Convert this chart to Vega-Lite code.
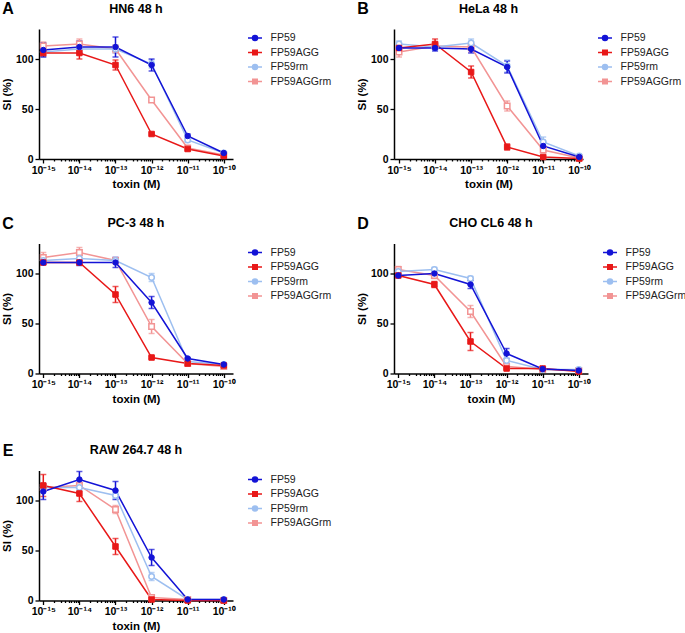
{
"$schema": "https://vega.github.io/schema/vega-lite/v6.json",
"padding": {"left": 1, "top": 1, "right": 0, "bottom": 0},
"background": "white",
"config": {
 "font": "Liberation Sans",
 "view": {"stroke": null},
 "axis": {"domainColor": "#000", "domainWidth": 1.5, "tickColor": "#000", "tickWidth": 1.3, "labelFont": "Liberation Sans", "labelFontWeight": "bold", "labelFontSize": 10.5, "labelColor": "#000", "titleFont": "Liberation Sans", "titleFontWeight": "bold", "titleFontSize": 11.5, "titleColor": "#000", "grid": false, "labelPadding": 2},
 "axisY": {"tickSize": 4, "titlePadding": 3},
 "axisX": {"titlePadding": 3, "labelOverlap": false},
 "title": {"font": "Liberation Sans", "fontSize": 12.5, "fontWeight": "bold", "color": "#000", "anchor": "middle", "frame": "group", "offset": -14}
},
"datasets": {
 "A": [
  {"x":1e-15,"s":"FP59AGGrm","y":113,"e":4},{"x":1e-14,"s":"FP59AGGrm","y":115,"e":5},{"x":1e-13,"s":"FP59AGGrm","y":110,"e":4},{"x":1e-12,"s":"FP59AGGrm","y":59,"e":2},{"x":1e-11,"s":"FP59AGGrm","y":11,"e":1},{"x":1e-10,"s":"FP59AGGrm","y":4,"e":1},
  {"x":1e-15,"s":"FP59rm","y":107,"e":5},{"x":1e-14,"s":"FP59rm","y":110,"e":4},{"x":1e-13,"s":"FP59rm","y":110,"e":4},{"x":1e-12,"s":"FP59rm","y":95,"e":4},{"x":1e-11,"s":"FP59rm","y":19,"e":2},{"x":1e-10,"s":"FP59rm","y":6,"e":1},
  {"x":1e-15,"s":"FP59AGG","y":106,"e":3},{"x":1e-14,"s":"FP59AGG","y":106,"e":6},{"x":1e-13,"s":"FP59AGG","y":94,"e":5},{"x":1e-12,"s":"FP59AGG","y":25,"e":1},{"x":1e-11,"s":"FP59AGG","y":10,"e":1},{"x":1e-10,"s":"FP59AGG","y":3,"e":1},
  {"x":1e-15,"s":"FP59","y":109,"e":7},{"x":1e-14,"s":"FP59","y":112,"e":6},{"x":1e-13,"s":"FP59","y":112,"e":10},{"x":1e-12,"s":"FP59","y":94,"e":6},{"x":1e-11,"s":"FP59","y":23,"e":2},{"x":1e-10,"s":"FP59","y":6,"e":1}
 ],
 "B": [
  {"x":1e-15,"s":"FP59AGGrm","y":107,"e":5},{"x":1e-14,"s":"FP59AGGrm","y":113,"e":3},{"x":1e-13,"s":"FP59AGGrm","y":112,"e":5},{"x":1e-12,"s":"FP59AGGrm","y":53,"e":5},{"x":1e-11,"s":"FP59AGGrm","y":9,"e":2},{"x":1e-10,"s":"FP59AGGrm","y":1,"e":1},
  {"x":1e-15,"s":"FP59rm","y":115,"e":3},{"x":1e-14,"s":"FP59rm","y":112,"e":3},{"x":1e-13,"s":"FP59rm","y":116,"e":4},{"x":1e-12,"s":"FP59rm","y":93,"e":6},{"x":1e-11,"s":"FP59rm","y":17,"e":5},{"x":1e-10,"s":"FP59rm","y":3,"e":1},
  {"x":1e-15,"s":"FP59AGG","y":111,"e":3},{"x":1e-14,"s":"FP59AGG","y":115,"e":5},{"x":1e-13,"s":"FP59AGG","y":87,"e":6},{"x":1e-12,"s":"FP59AGG","y":12,"e":3},{"x":1e-11,"s":"FP59AGG","y":2,"e":1},{"x":1e-10,"s":"FP59AGG","y":0.5,"e":0.5},
  {"x":1e-15,"s":"FP59","y":111,"e":3},{"x":1e-14,"s":"FP59","y":111,"e":3},{"x":1e-13,"s":"FP59","y":110,"e":4},{"x":1e-12,"s":"FP59","y":92,"e":6},{"x":1e-11,"s":"FP59","y":13,"e":4},{"x":1e-10,"s":"FP59","y":2,"e":1}
 ],
 "C": [
  {"x":1e-15,"s":"FP59AGGrm","y":116,"e":5},{"x":1e-14,"s":"FP59AGGrm","y":121,"e":5},{"x":1e-13,"s":"FP59AGGrm","y":113,"e":3},{"x":1e-12,"s":"FP59AGGrm","y":47,"e":7},{"x":1e-11,"s":"FP59AGGrm","y":10,"e":1},{"x":1e-10,"s":"FP59AGGrm","y":7,"e":1},
  {"x":1e-15,"s":"FP59rm","y":113,"e":3},{"x":1e-14,"s":"FP59rm","y":115,"e":3},{"x":1e-13,"s":"FP59rm","y":113,"e":3},{"x":1e-12,"s":"FP59rm","y":96,"e":4},{"x":1e-11,"s":"FP59rm","y":12,"e":1},{"x":1e-10,"s":"FP59rm","y":9,"e":1},
  {"x":1e-15,"s":"FP59AGG","y":111,"e":2},{"x":1e-14,"s":"FP59AGG","y":111,"e":2},{"x":1e-13,"s":"FP59AGG","y":79,"e":8},{"x":1e-12,"s":"FP59AGG","y":16,"e":1},{"x":1e-11,"s":"FP59AGG","y":10,"e":1},{"x":1e-10,"s":"FP59AGG","y":8,"e":1},
  {"x":1e-15,"s":"FP59","y":111,"e":2},{"x":1e-14,"s":"FP59","y":111,"e":3},{"x":1e-13,"s":"FP59","y":111,"e":5},{"x":1e-12,"s":"FP59","y":71,"e":6},{"x":1e-11,"s":"FP59","y":15,"e":1},{"x":1e-10,"s":"FP59","y":9,"e":1}
 ],
 "D": [
  {"x":1e-15,"s":"FP59AGGrm","y":104,"e":3},{"x":1e-14,"s":"FP59AGGrm","y":98,"e":3},{"x":1e-13,"s":"FP59AGGrm","y":62,"e":6},{"x":1e-12,"s":"FP59AGGrm","y":7,"e":1},{"x":1e-11,"s":"FP59AGGrm","y":4,"e":1},{"x":1e-10,"s":"FP59AGGrm","y":3,"e":1},
  {"x":1e-15,"s":"FP59rm","y":102,"e":2},{"x":1e-14,"s":"FP59rm","y":104,"e":2},{"x":1e-13,"s":"FP59rm","y":95,"e":2},{"x":1e-12,"s":"FP59rm","y":13,"e":2},{"x":1e-11,"s":"FP59rm","y":4,"e":1},{"x":1e-10,"s":"FP59rm","y":4,"e":1},
  {"x":1e-15,"s":"FP59AGG","y":98,"e":1},{"x":1e-14,"s":"FP59AGG","y":89,"e":3},{"x":1e-13,"s":"FP59AGG","y":32,"e":9},{"x":1e-12,"s":"FP59AGG","y":5,"e":1},{"x":1e-11,"s":"FP59AGG","y":5,"e":1},{"x":1e-10,"s":"FP59AGG","y":2,"e":1},
  {"x":1e-15,"s":"FP59","y":98,"e":2},{"x":1e-14,"s":"FP59","y":100,"e":3},{"x":1e-13,"s":"FP59","y":89,"e":4},{"x":1e-12,"s":"FP59","y":20,"e":5},{"x":1e-11,"s":"FP59","y":4.5,"e":1},{"x":1e-10,"s":"FP59","y":3,"e":1}
 ],
 "E": [
  {"x":1e-15,"s":"FP59AGGrm","y":113,"e":3},{"x":1e-14,"s":"FP59AGGrm","y":115,"e":3},{"x":1e-13,"s":"FP59AGGrm","y":91,"e":4},{"x":1e-12,"s":"FP59AGGrm","y":3,"e":1},{"x":1e-11,"s":"FP59AGGrm","y":1,"e":1},{"x":1e-10,"s":"FP59AGGrm","y":0,"e":0.5},
  {"x":1e-15,"s":"FP59rm","y":113,"e":3},{"x":1e-14,"s":"FP59rm","y":113,"e":3},{"x":1e-13,"s":"FP59rm","y":105,"e":3},{"x":1e-12,"s":"FP59rm","y":24,"e":4},{"x":1e-11,"s":"FP59rm","y":1,"e":1},{"x":1e-10,"s":"FP59rm","y":1,"e":1},
  {"x":1e-15,"s":"FP59AGG","y":115,"e":11},{"x":1e-14,"s":"FP59AGG","y":107,"e":8},{"x":1e-13,"s":"FP59AGG","y":54,"e":8},{"x":1e-12,"s":"FP59AGG","y":1,"e":1},{"x":1e-11,"s":"FP59AGG","y":0,"e":0.5},{"x":1e-10,"s":"FP59AGG","y":0,"e":0.5},
  {"x":1e-15,"s":"FP59","y":109,"e":8},{"x":1e-14,"s":"FP59","y":121,"e":8},{"x":1e-13,"s":"FP59","y":110,"e":9},{"x":1e-12,"s":"FP59","y":43,"e":8},{"x":1e-11,"s":"FP59","y":1,"e":1},{"x":1e-10,"s":"FP59","y":1,"e":1}
 ]
},
"vconcat": [
 {"vconcat": [
  {"hconcat": [
   {"data": {"name": "A"}, "width": 194, "height": 130, "title": {"text": "HN6 48 h"},
    "layer": [
     {"mark": {"type": "errorbar", "ticks": {"size": 6}, "thickness": 1.5},
      "encoding": {
       "x": {"field": "x", "type": "quantitative", "scale": {"type": "log", "domain": [7.6e-16, 1.8e-10], "nice": false}, "axis": {"title": "toxin (M)", "values": [1e-15,2e-15,3e-15,4e-15,5e-15,6e-15,7e-15,8e-15,9e-15,1e-14,2e-14,3e-14,4e-14,5e-14,6e-14,7e-14,8e-14,9e-14,1e-13,2e-13,3e-13,4e-13,5e-13,6e-13,7e-13,8e-13,9e-13,1e-12,2e-12,3e-12,4e-12,5e-12,6e-12,7e-12,8e-12,9e-12,1e-11,2e-11,3e-11,4e-11,5e-11,6e-11,7e-11,8e-11,9e-11,1e-10], "labelExpr": "abs(log(datum.value)/LN10 - round(log(datum.value)/LN10)) < 0.001 ? ['10⁻¹⁵','10⁻¹⁴','10⁻¹³','10⁻¹²','10⁻¹¹','10⁻¹⁰'][round(log(datum.value)/LN10)+15] : ''", "tickSize": {"condition": {"test": "abs(log(datum.value)/LN10 - round(log(datum.value)/LN10)) < 0.001", "value": 4}, "value": 2}}},
       "y": {"field": "y", "type": "quantitative", "scale": {"domain": [0, 130], "nice": false}, "axis": {"values": [0, 50, 100], "title": "SI (%)"}},
       "yError": {"field": "e"},
       "color": {"field": "s", "type": "nominal", "scale": {"domain": ["FP59","FP59AGG","FP59rm","FP59AGGrm"], "range": ["#1313d6","#e81818","#9dbff0","#f29494"]},
        "legend": {"title": null, "offset": 12.7, "padding": 3, "symbolSize": 100, "labelFont": "Liberation Sans", "labelFontSize": 10.5, "labelColor": "#222", "labelOffset": 9.6, "rowPadding": 2.5,
         "encode": {"symbols": {"update": {
          "shape": {"signal": "(datum.value === 'FP59' || datum.value === 'FP59rm') ? 'M-1.4,0H1.4M0.5,0A0.5,0.5,0,1,1,-0.5,0A0.5,0.5,0,1,1,0.5,0Z' : 'M-1.4,0H1.4M-0.45,-0.45H0.45V0.45H-0.45Z'"},
          "stroke": {"signal": "datum.value === 'FP59' ? '#1313d6' : datum.value === 'FP59AGG' ? '#e81818' : datum.value === 'FP59rm' ? '#9dbff0' : '#f29494'"},
          "fill": {"signal": "datum.value === 'FP59' ? '#1313d6' : datum.value === 'FP59AGG' ? '#e81818' : '#ffffff'"},
          "strokeWidth": {"value": 1.5}, "opacity": {"value": 1}}}}}}}},
     {"mark": {"type": "line", "strokeWidth": 1.5},
      "encoding": {
       "x": {"field": "x", "type": "quantitative", "scale": {"type": "log", "domain": [7.6e-16, 1.8e-10], "nice": false}},
       "y": {"field": "y", "type": "quantitative", "scale": {"domain": [0, 130], "nice": false}},
       "color": {"field": "s", "type": "nominal", "scale": {"domain": ["FP59","FP59AGG","FP59rm","FP59AGGrm"], "range": ["#1313d6","#e81818","#9dbff0","#f29494"]}}}},
     {"transform": [{"filter": "datum.s === 'FP59AGGrm'"}], "mark": {"type": "point", "shape": "square", "filled": true, "fill": "#ffffff", "stroke": "#f29494", "strokeWidth": 1.5, "size": 30, "opacity": 1},
      "encoding": {"x": {"field": "x", "type": "quantitative", "scale": {"type": "log", "domain": [7.6e-16, 1.8e-10], "nice": false}}, "y": {"field": "y", "type": "quantitative", "scale": {"domain": [0, 130], "nice": false}}}},
     {"transform": [{"filter": "datum.s === 'FP59rm'"}], "mark": {"type": "point", "shape": "circle", "filled": true, "fill": "#ffffff", "stroke": "#9dbff0", "strokeWidth": 1.5, "size": 30, "opacity": 1},
      "encoding": {"x": {"field": "x", "type": "quantitative", "scale": {"type": "log", "domain": [7.6e-16, 1.8e-10], "nice": false}}, "y": {"field": "y", "type": "quantitative", "scale": {"domain": [0, 130], "nice": false}}}},
     {"transform": [{"filter": "datum.s === 'FP59AGG'"}], "mark": {"type": "point", "shape": "square", "filled": true, "fill": "#e81818", "stroke": "#e81818", "strokeWidth": 1, "size": 30, "opacity": 1},
      "encoding": {"x": {"field": "x", "type": "quantitative", "scale": {"type": "log", "domain": [7.6e-16, 1.8e-10], "nice": false}}, "y": {"field": "y", "type": "quantitative", "scale": {"domain": [0, 130], "nice": false}}}},
     {"transform": [{"filter": "datum.s === 'FP59'"}], "mark": {"type": "point", "shape": "circle", "filled": true, "fill": "#1313d6", "stroke": "#1313d6", "strokeWidth": 1, "size": 30, "opacity": 1},
      "encoding": {"x": {"field": "x", "type": "quantitative", "scale": {"type": "log", "domain": [7.6e-16, 1.8e-10], "nice": false}}, "y": {"field": "y", "type": "quantitative", "scale": {"domain": [0, 130], "nice": false}}}},
     {"data": {"values": [{"t": "A"}]}, "mark": {"type": "text", "fontSize": 16, "fontWeight": "bold", "font": "Liberation Sans", "baseline": "middle", "align": "center", "color": "#000"},
      "encoding": {"x": {"datum": 1.05e-16, "type": "quantitative", "scale": {"type": "log", "domain": [7.6e-16, 1.8e-10], "nice": false}}, "y": {"datum": 150, "type": "quantitative", "scale": {"domain": [0, 130], "nice": false}}, "text": {"field": "t", "type": "nominal"}}}
    ]},
   {"data": {"name": "B"}, "width": 189, "height": 130, "title": {"text": "HeLa 48 h"},
    "layer": [
     {"mark": {"type": "errorbar", "ticks": {"size": 6}, "thickness": 1.5},
      "encoding": {
       "x": {"field": "x", "type": "quantitative", "scale": {"type": "log", "domain": [7.26e-16, 1.27e-10], "nice": false}, "axis": {"title": "toxin (M)", "values": [1e-15,2e-15,3e-15,4e-15,5e-15,6e-15,7e-15,8e-15,9e-15,1e-14,2e-14,3e-14,4e-14,5e-14,6e-14,7e-14,8e-14,9e-14,1e-13,2e-13,3e-13,4e-13,5e-13,6e-13,7e-13,8e-13,9e-13,1e-12,2e-12,3e-12,4e-12,5e-12,6e-12,7e-12,8e-12,9e-12,1e-11,2e-11,3e-11,4e-11,5e-11,6e-11,7e-11,8e-11,9e-11,1e-10], "labelExpr": "abs(log(datum.value)/LN10 - round(log(datum.value)/LN10)) < 0.001 ? ['10⁻¹⁵','10⁻¹⁴','10⁻¹³','10⁻¹²','10⁻¹¹','10⁻¹⁰'][round(log(datum.value)/LN10)+15] : ''", "tickSize": {"condition": {"test": "abs(log(datum.value)/LN10 - round(log(datum.value)/LN10)) < 0.001", "value": 4}, "value": 2}}},
       "y": {"field": "y", "type": "quantitative", "scale": {"domain": [0, 130], "nice": false}, "axis": {"values": [0, 50, 100], "title": "SI (%)"}},
       "yError": {"field": "e"},
       "color": {"field": "s", "type": "nominal", "scale": {"domain": ["FP59","FP59AGG","FP59rm","FP59AGGrm"], "range": ["#1313d6","#e81818","#9dbff0","#f29494"]},
        "legend": {"title": null, "offset": 12.7, "padding": 3, "symbolSize": 100, "labelFont": "Liberation Sans", "labelFontSize": 10.5, "labelColor": "#222", "labelOffset": 9.6, "rowPadding": 2.5,
         "encode": {"symbols": {"update": {
          "shape": {"signal": "(datum.value === 'FP59' || datum.value === 'FP59rm') ? 'M-1.4,0H1.4M0.5,0A0.5,0.5,0,1,1,-0.5,0A0.5,0.5,0,1,1,0.5,0Z' : 'M-1.4,0H1.4M-0.45,-0.45H0.45V0.45H-0.45Z'"},
          "stroke": {"signal": "datum.value === 'FP59' ? '#1313d6' : datum.value === 'FP59AGG' ? '#e81818' : datum.value === 'FP59rm' ? '#9dbff0' : '#f29494'"},
          "fill": {"signal": "datum.value === 'FP59' ? '#1313d6' : datum.value === 'FP59AGG' ? '#e81818' : '#ffffff'"},
          "strokeWidth": {"value": 1.5}, "opacity": {"value": 1}}}}}}}},
     {"mark": {"type": "line", "strokeWidth": 1.5},
      "encoding": {
       "x": {"field": "x", "type": "quantitative", "scale": {"type": "log", "domain": [7.26e-16, 1.27e-10], "nice": false}},
       "y": {"field": "y", "type": "quantitative", "scale": {"domain": [0, 130], "nice": false}},
       "color": {"field": "s", "type": "nominal", "scale": {"domain": ["FP59","FP59AGG","FP59rm","FP59AGGrm"], "range": ["#1313d6","#e81818","#9dbff0","#f29494"]}}}},
     {"transform": [{"filter": "datum.s === 'FP59AGGrm'"}], "mark": {"type": "point", "shape": "square", "filled": true, "fill": "#ffffff", "stroke": "#f29494", "strokeWidth": 1.5, "size": 30, "opacity": 1},
      "encoding": {"x": {"field": "x", "type": "quantitative", "scale": {"type": "log", "domain": [7.26e-16, 1.27e-10], "nice": false}}, "y": {"field": "y", "type": "quantitative", "scale": {"domain": [0, 130], "nice": false}}}},
     {"transform": [{"filter": "datum.s === 'FP59rm'"}], "mark": {"type": "point", "shape": "circle", "filled": true, "fill": "#ffffff", "stroke": "#9dbff0", "strokeWidth": 1.5, "size": 30, "opacity": 1},
      "encoding": {"x": {"field": "x", "type": "quantitative", "scale": {"type": "log", "domain": [7.26e-16, 1.27e-10], "nice": false}}, "y": {"field": "y", "type": "quantitative", "scale": {"domain": [0, 130], "nice": false}}}},
     {"transform": [{"filter": "datum.s === 'FP59AGG'"}], "mark": {"type": "point", "shape": "square", "filled": true, "fill": "#e81818", "stroke": "#e81818", "strokeWidth": 1, "size": 30, "opacity": 1},
      "encoding": {"x": {"field": "x", "type": "quantitative", "scale": {"type": "log", "domain": [7.26e-16, 1.27e-10], "nice": false}}, "y": {"field": "y", "type": "quantitative", "scale": {"domain": [0, 130], "nice": false}}}},
     {"transform": [{"filter": "datum.s === 'FP59'"}], "mark": {"type": "point", "shape": "circle", "filled": true, "fill": "#1313d6", "stroke": "#1313d6", "strokeWidth": 1, "size": 30, "opacity": 1},
      "encoding": {"x": {"field": "x", "type": "quantitative", "scale": {"type": "log", "domain": [7.26e-16, 1.27e-10], "nice": false}}, "y": {"field": "y", "type": "quantitative", "scale": {"domain": [0, 130], "nice": false}}}},
     {"data": {"values": [{"t": "B"}]}, "mark": {"type": "text", "fontSize": 16, "fontWeight": "bold", "font": "Liberation Sans", "baseline": "middle", "align": "center", "color": "#000"},
      "encoding": {"x": {"datum": 1.0e-16, "type": "quantitative", "scale": {"type": "log", "domain": [7.26e-16, 1.27e-10], "nice": false}}, "y": {"datum": 150, "type": "quantitative", "scale": {"domain": [0, 130], "nice": false}}, "text": {"field": "t", "type": "nominal"}}}
    ]}
  ], "spacing": 21, "resolve": {"scale": {"color": "independent"}, "legend": {"color": "independent"}}},
  {"hconcat": [
   {"data": {"name": "C"}, "width": 194, "height": 130, "title": {"text": "PC-3 48 h"},
    "layer": [
     {"mark": {"type": "errorbar", "ticks": {"size": 6}, "thickness": 1.5},
      "encoding": {
       "x": {"field": "x", "type": "quantitative", "scale": {"type": "log", "domain": [7.6e-16, 1.8e-10], "nice": false}, "axis": {"title": "toxin (M)", "values": [1e-15,2e-15,3e-15,4e-15,5e-15,6e-15,7e-15,8e-15,9e-15,1e-14,2e-14,3e-14,4e-14,5e-14,6e-14,7e-14,8e-14,9e-14,1e-13,2e-13,3e-13,4e-13,5e-13,6e-13,7e-13,8e-13,9e-13,1e-12,2e-12,3e-12,4e-12,5e-12,6e-12,7e-12,8e-12,9e-12,1e-11,2e-11,3e-11,4e-11,5e-11,6e-11,7e-11,8e-11,9e-11,1e-10], "labelExpr": "abs(log(datum.value)/LN10 - round(log(datum.value)/LN10)) < 0.001 ? ['10⁻¹⁵','10⁻¹⁴','10⁻¹³','10⁻¹²','10⁻¹¹','10⁻¹⁰'][round(log(datum.value)/LN10)+15] : ''", "tickSize": {"condition": {"test": "abs(log(datum.value)/LN10 - round(log(datum.value)/LN10)) < 0.001", "value": 4}, "value": 2}}},
       "y": {"field": "y", "type": "quantitative", "scale": {"domain": [0, 130], "nice": false}, "axis": {"values": [0, 50, 100], "title": "SI (%)"}},
       "yError": {"field": "e"},
       "color": {"field": "s", "type": "nominal", "scale": {"domain": ["FP59","FP59AGG","FP59rm","FP59AGGrm"], "range": ["#1313d6","#e81818","#9dbff0","#f29494"]},
        "legend": {"title": null, "offset": 12.7, "padding": 3, "symbolSize": 100, "labelFont": "Liberation Sans", "labelFontSize": 10.5, "labelColor": "#222", "labelOffset": 9.6, "rowPadding": 2.5,
         "encode": {"symbols": {"update": {
          "shape": {"signal": "(datum.value === 'FP59' || datum.value === 'FP59rm') ? 'M-1.4,0H1.4M0.5,0A0.5,0.5,0,1,1,-0.5,0A0.5,0.5,0,1,1,0.5,0Z' : 'M-1.4,0H1.4M-0.45,-0.45H0.45V0.45H-0.45Z'"},
          "stroke": {"signal": "datum.value === 'FP59' ? '#1313d6' : datum.value === 'FP59AGG' ? '#e81818' : datum.value === 'FP59rm' ? '#9dbff0' : '#f29494'"},
          "fill": {"signal": "datum.value === 'FP59' ? '#1313d6' : datum.value === 'FP59AGG' ? '#e81818' : '#ffffff'"},
          "strokeWidth": {"value": 1.5}, "opacity": {"value": 1}}}}}}}},
     {"mark": {"type": "line", "strokeWidth": 1.5},
      "encoding": {
       "x": {"field": "x", "type": "quantitative", "scale": {"type": "log", "domain": [7.6e-16, 1.8e-10], "nice": false}},
       "y": {"field": "y", "type": "quantitative", "scale": {"domain": [0, 130], "nice": false}},
       "color": {"field": "s", "type": "nominal", "scale": {"domain": ["FP59","FP59AGG","FP59rm","FP59AGGrm"], "range": ["#1313d6","#e81818","#9dbff0","#f29494"]}}}},
     {"transform": [{"filter": "datum.s === 'FP59AGGrm'"}], "mark": {"type": "point", "shape": "square", "filled": true, "fill": "#ffffff", "stroke": "#f29494", "strokeWidth": 1.5, "size": 30, "opacity": 1},
      "encoding": {"x": {"field": "x", "type": "quantitative", "scale": {"type": "log", "domain": [7.6e-16, 1.8e-10], "nice": false}}, "y": {"field": "y", "type": "quantitative", "scale": {"domain": [0, 130], "nice": false}}}},
     {"transform": [{"filter": "datum.s === 'FP59rm'"}], "mark": {"type": "point", "shape": "circle", "filled": true, "fill": "#ffffff", "stroke": "#9dbff0", "strokeWidth": 1.5, "size": 30, "opacity": 1},
      "encoding": {"x": {"field": "x", "type": "quantitative", "scale": {"type": "log", "domain": [7.6e-16, 1.8e-10], "nice": false}}, "y": {"field": "y", "type": "quantitative", "scale": {"domain": [0, 130], "nice": false}}}},
     {"transform": [{"filter": "datum.s === 'FP59AGG'"}], "mark": {"type": "point", "shape": "square", "filled": true, "fill": "#e81818", "stroke": "#e81818", "strokeWidth": 1, "size": 30, "opacity": 1},
      "encoding": {"x": {"field": "x", "type": "quantitative", "scale": {"type": "log", "domain": [7.6e-16, 1.8e-10], "nice": false}}, "y": {"field": "y", "type": "quantitative", "scale": {"domain": [0, 130], "nice": false}}}},
     {"transform": [{"filter": "datum.s === 'FP59'"}], "mark": {"type": "point", "shape": "circle", "filled": true, "fill": "#1313d6", "stroke": "#1313d6", "strokeWidth": 1, "size": 30, "opacity": 1},
      "encoding": {"x": {"field": "x", "type": "quantitative", "scale": {"type": "log", "domain": [7.6e-16, 1.8e-10], "nice": false}}, "y": {"field": "y", "type": "quantitative", "scale": {"domain": [0, 130], "nice": false}}}},
     {"data": {"values": [{"t": "C"}]}, "mark": {"type": "text", "fontSize": 16, "fontWeight": "bold", "font": "Liberation Sans", "baseline": "middle", "align": "center", "color": "#000"},
      "encoding": {"x": {"datum": 1.05e-16, "type": "quantitative", "scale": {"type": "log", "domain": [7.6e-16, 1.8e-10], "nice": false}}, "y": {"datum": 150, "type": "quantitative", "scale": {"domain": [0, 130], "nice": false}}, "text": {"field": "t", "type": "nominal"}}}
    ]},
   {"data": {"name": "D"}, "width": 194, "height": 130, "title": {"text": "CHO CL6 48 h"},
    "layer": [
     {"mark": {"type": "errorbar", "ticks": {"size": 6}, "thickness": 1.5},
      "encoding": {
       "x": {"field": "x", "type": "quantitative", "scale": {"type": "log", "domain": [7.6e-16, 1.8e-10], "nice": false}, "axis": {"title": "toxin (M)", "values": [1e-15,2e-15,3e-15,4e-15,5e-15,6e-15,7e-15,8e-15,9e-15,1e-14,2e-14,3e-14,4e-14,5e-14,6e-14,7e-14,8e-14,9e-14,1e-13,2e-13,3e-13,4e-13,5e-13,6e-13,7e-13,8e-13,9e-13,1e-12,2e-12,3e-12,4e-12,5e-12,6e-12,7e-12,8e-12,9e-12,1e-11,2e-11,3e-11,4e-11,5e-11,6e-11,7e-11,8e-11,9e-11,1e-10], "labelExpr": "abs(log(datum.value)/LN10 - round(log(datum.value)/LN10)) < 0.001 ? ['10⁻¹⁵','10⁻¹⁴','10⁻¹³','10⁻¹²','10⁻¹¹','10⁻¹⁰'][round(log(datum.value)/LN10)+15] : ''", "tickSize": {"condition": {"test": "abs(log(datum.value)/LN10 - round(log(datum.value)/LN10)) < 0.001", "value": 4}, "value": 2}}},
       "y": {"field": "y", "type": "quantitative", "scale": {"domain": [0, 130], "nice": false}, "axis": {"values": [0, 50, 100], "title": "SI (%)"}},
       "yError": {"field": "e"},
       "color": {"field": "s", "type": "nominal", "scale": {"domain": ["FP59","FP59AGG","FP59rm","FP59AGGrm"], "range": ["#1313d6","#e81818","#9dbff0","#f29494"]},
        "legend": {"title": null, "offset": 12.7, "padding": 3, "symbolSize": 100, "labelFont": "Liberation Sans", "labelFontSize": 10.5, "labelColor": "#222", "labelOffset": 9.6, "rowPadding": 2.5,
         "encode": {"symbols": {"update": {
          "shape": {"signal": "(datum.value === 'FP59' || datum.value === 'FP59rm') ? 'M-1.4,0H1.4M0.5,0A0.5,0.5,0,1,1,-0.5,0A0.5,0.5,0,1,1,0.5,0Z' : 'M-1.4,0H1.4M-0.45,-0.45H0.45V0.45H-0.45Z'"},
          "stroke": {"signal": "datum.value === 'FP59' ? '#1313d6' : datum.value === 'FP59AGG' ? '#e81818' : datum.value === 'FP59rm' ? '#9dbff0' : '#f29494'"},
          "fill": {"signal": "datum.value === 'FP59' ? '#1313d6' : datum.value === 'FP59AGG' ? '#e81818' : '#ffffff'"},
          "strokeWidth": {"value": 1.5}, "opacity": {"value": 1}}}}}}}},
     {"mark": {"type": "line", "strokeWidth": 1.5},
      "encoding": {
       "x": {"field": "x", "type": "quantitative", "scale": {"type": "log", "domain": [7.6e-16, 1.8e-10], "nice": false}},
       "y": {"field": "y", "type": "quantitative", "scale": {"domain": [0, 130], "nice": false}},
       "color": {"field": "s", "type": "nominal", "scale": {"domain": ["FP59","FP59AGG","FP59rm","FP59AGGrm"], "range": ["#1313d6","#e81818","#9dbff0","#f29494"]}}}},
     {"transform": [{"filter": "datum.s === 'FP59AGGrm'"}], "mark": {"type": "point", "shape": "square", "filled": true, "fill": "#ffffff", "stroke": "#f29494", "strokeWidth": 1.5, "size": 30, "opacity": 1},
      "encoding": {"x": {"field": "x", "type": "quantitative", "scale": {"type": "log", "domain": [7.6e-16, 1.8e-10], "nice": false}}, "y": {"field": "y", "type": "quantitative", "scale": {"domain": [0, 130], "nice": false}}}},
     {"transform": [{"filter": "datum.s === 'FP59rm'"}], "mark": {"type": "point", "shape": "circle", "filled": true, "fill": "#ffffff", "stroke": "#9dbff0", "strokeWidth": 1.5, "size": 30, "opacity": 1},
      "encoding": {"x": {"field": "x", "type": "quantitative", "scale": {"type": "log", "domain": [7.6e-16, 1.8e-10], "nice": false}}, "y": {"field": "y", "type": "quantitative", "scale": {"domain": [0, 130], "nice": false}}}},
     {"transform": [{"filter": "datum.s === 'FP59AGG'"}], "mark": {"type": "point", "shape": "square", "filled": true, "fill": "#e81818", "stroke": "#e81818", "strokeWidth": 1, "size": 30, "opacity": 1},
      "encoding": {"x": {"field": "x", "type": "quantitative", "scale": {"type": "log", "domain": [7.6e-16, 1.8e-10], "nice": false}}, "y": {"field": "y", "type": "quantitative", "scale": {"domain": [0, 130], "nice": false}}}},
     {"transform": [{"filter": "datum.s === 'FP59'"}], "mark": {"type": "point", "shape": "circle", "filled": true, "fill": "#1313d6", "stroke": "#1313d6", "strokeWidth": 1, "size": 30, "opacity": 1},
      "encoding": {"x": {"field": "x", "type": "quantitative", "scale": {"type": "log", "domain": [7.6e-16, 1.8e-10], "nice": false}}, "y": {"field": "y", "type": "quantitative", "scale": {"domain": [0, 130], "nice": false}}}},
     {"data": {"values": [{"t": "D"}]}, "mark": {"type": "text", "fontSize": 16, "fontWeight": "bold", "font": "Liberation Sans", "baseline": "middle", "align": "center", "color": "#000"},
      "encoding": {"x": {"datum": 1.05e-16, "type": "quantitative", "scale": {"type": "log", "domain": [7.6e-16, 1.8e-10], "nice": false}}, "y": {"datum": 150, "type": "quantitative", "scale": {"domain": [0, 130], "nice": false}}, "text": {"field": "t", "type": "nominal"}}}
    ]}
  ], "spacing": 21, "resolve": {"scale": {"color": "independent"}, "legend": {"color": "independent"}}}
 ], "spacing": 25.5, "resolve": {"scale": {"color": "independent"}, "legend": {"color": "independent"}}},
 {"data": {"name": "E"}, "width": 194, "height": 130, "title": {"text": "RAW 264.7 48 h"},
    "layer": [
     {"mark": {"type": "errorbar", "ticks": {"size": 6}, "thickness": 1.5},
      "encoding": {
       "x": {"field": "x", "type": "quantitative", "scale": {"type": "log", "domain": [7.6e-16, 1.8e-10], "nice": false}, "axis": {"title": "toxin (M)", "values": [1e-15,2e-15,3e-15,4e-15,5e-15,6e-15,7e-15,8e-15,9e-15,1e-14,2e-14,3e-14,4e-14,5e-14,6e-14,7e-14,8e-14,9e-14,1e-13,2e-13,3e-13,4e-13,5e-13,6e-13,7e-13,8e-13,9e-13,1e-12,2e-12,3e-12,4e-12,5e-12,6e-12,7e-12,8e-12,9e-12,1e-11,2e-11,3e-11,4e-11,5e-11,6e-11,7e-11,8e-11,9e-11,1e-10], "labelExpr": "abs(log(datum.value)/LN10 - round(log(datum.value)/LN10)) < 0.001 ? ['10⁻¹⁵','10⁻¹⁴','10⁻¹³','10⁻¹²','10⁻¹¹','10⁻¹⁰'][round(log(datum.value)/LN10)+15] : ''", "tickSize": {"condition": {"test": "abs(log(datum.value)/LN10 - round(log(datum.value)/LN10)) < 0.001", "value": 4}, "value": 2}}},
       "y": {"field": "y", "type": "quantitative", "scale": {"domain": [0, 130], "nice": false}, "axis": {"values": [0, 50, 100], "title": "SI (%)"}},
       "yError": {"field": "e"},
       "color": {"field": "s", "type": "nominal", "scale": {"domain": ["FP59","FP59AGG","FP59rm","FP59AGGrm"], "range": ["#1313d6","#e81818","#9dbff0","#f29494"]},
        "legend": {"title": null, "offset": 12.7, "padding": 3, "symbolSize": 100, "labelFont": "Liberation Sans", "labelFontSize": 10.5, "labelColor": "#222", "labelOffset": 9.6, "rowPadding": 2.5,
         "encode": {"symbols": {"update": {
          "shape": {"signal": "(datum.value === 'FP59' || datum.value === 'FP59rm') ? 'M-1.4,0H1.4M0.5,0A0.5,0.5,0,1,1,-0.5,0A0.5,0.5,0,1,1,0.5,0Z' : 'M-1.4,0H1.4M-0.45,-0.45H0.45V0.45H-0.45Z'"},
          "stroke": {"signal": "datum.value === 'FP59' ? '#1313d6' : datum.value === 'FP59AGG' ? '#e81818' : datum.value === 'FP59rm' ? '#9dbff0' : '#f29494'"},
          "fill": {"signal": "datum.value === 'FP59' ? '#1313d6' : datum.value === 'FP59AGG' ? '#e81818' : '#ffffff'"},
          "strokeWidth": {"value": 1.5}, "opacity": {"value": 1}}}}}}}},
     {"mark": {"type": "line", "strokeWidth": 1.5},
      "encoding": {
       "x": {"field": "x", "type": "quantitative", "scale": {"type": "log", "domain": [7.6e-16, 1.8e-10], "nice": false}},
       "y": {"field": "y", "type": "quantitative", "scale": {"domain": [0, 130], "nice": false}},
       "color": {"field": "s", "type": "nominal", "scale": {"domain": ["FP59","FP59AGG","FP59rm","FP59AGGrm"], "range": ["#1313d6","#e81818","#9dbff0","#f29494"]}}}},
     {"transform": [{"filter": "datum.s === 'FP59AGGrm'"}], "mark": {"type": "point", "shape": "square", "filled": true, "fill": "#ffffff", "stroke": "#f29494", "strokeWidth": 1.5, "size": 30, "opacity": 1},
      "encoding": {"x": {"field": "x", "type": "quantitative", "scale": {"type": "log", "domain": [7.6e-16, 1.8e-10], "nice": false}}, "y": {"field": "y", "type": "quantitative", "scale": {"domain": [0, 130], "nice": false}}}},
     {"transform": [{"filter": "datum.s === 'FP59rm'"}], "mark": {"type": "point", "shape": "circle", "filled": true, "fill": "#ffffff", "stroke": "#9dbff0", "strokeWidth": 1.5, "size": 30, "opacity": 1},
      "encoding": {"x": {"field": "x", "type": "quantitative", "scale": {"type": "log", "domain": [7.6e-16, 1.8e-10], "nice": false}}, "y": {"field": "y", "type": "quantitative", "scale": {"domain": [0, 130], "nice": false}}}},
     {"transform": [{"filter": "datum.s === 'FP59AGG'"}], "mark": {"type": "point", "shape": "square", "filled": true, "fill": "#e81818", "stroke": "#e81818", "strokeWidth": 1, "size": 30, "opacity": 1},
      "encoding": {"x": {"field": "x", "type": "quantitative", "scale": {"type": "log", "domain": [7.6e-16, 1.8e-10], "nice": false}}, "y": {"field": "y", "type": "quantitative", "scale": {"domain": [0, 130], "nice": false}}}},
     {"transform": [{"filter": "datum.s === 'FP59'"}], "mark": {"type": "point", "shape": "circle", "filled": true, "fill": "#1313d6", "stroke": "#1313d6", "strokeWidth": 1, "size": 30, "opacity": 1},
      "encoding": {"x": {"field": "x", "type": "quantitative", "scale": {"type": "log", "domain": [7.6e-16, 1.8e-10], "nice": false}}, "y": {"field": "y", "type": "quantitative", "scale": {"domain": [0, 130], "nice": false}}}},
     {"data": {"values": [{"t": "E"}]}, "mark": {"type": "text", "fontSize": 16, "fontWeight": "bold", "font": "Liberation Sans", "baseline": "middle", "align": "center", "color": "#000"},
      "encoding": {"x": {"datum": 1.05e-16, "type": "quantitative", "scale": {"type": "log", "domain": [7.6e-16, 1.8e-10], "nice": false}}, "y": {"datum": 150, "type": "quantitative", "scale": {"domain": [0, 130], "nice": false}}, "text": {"field": "t", "type": "nominal"}}}
    ]}
],
"spacing": 37.5,
"resolve": {"scale": {"color": "independent"}, "legend": {"color": "independent"}}
}
